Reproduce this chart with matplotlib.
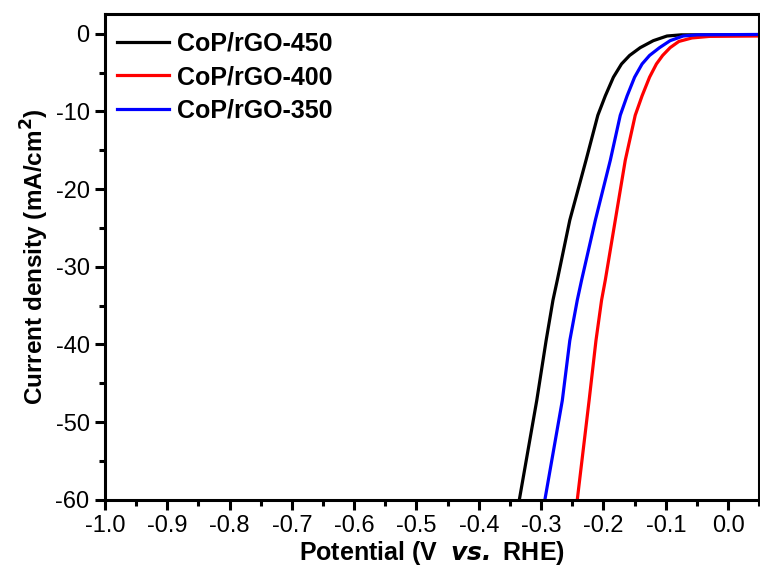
import numpy as np
import matplotlib
matplotlib.use("Agg")
import matplotlib.pyplot as plt
from matplotlib.ticker import MultipleLocator

plt.rcParams["font.family"] = ["Liberation Sans", "DejaVu Sans"]
plt.rcParams["axes.unicode_minus"] = False

# LSV curves (V vs RHE, mA/cm2)
black_x = [-0.335, -0.307, -0.292, -0.281, -0.274, -0.254, -0.228, -0.209, -0.197,
           -0.184, -0.171, -0.158, -0.141, -0.120, -0.098, -0.075, 0.05]
black_y = [-60.0, -47.2, -39.5, -34.3, -31.7, -24.0, -16.3, -10.5, -8.0,
           -5.6, -3.9, -2.8, -1.8, -0.9, -0.3, -0.15, -0.15]
red_x = [-0.242, -0.223, -0.212, -0.203, -0.197, -0.181, -0.165, -0.149, -0.138,
         -0.126, -0.115, -0.105, -0.093, -0.079, -0.058, -0.030, 0.05]
red_y = [-60.0, -47.2, -39.5, -34.3, -31.7, -24.0, -16.3, -10.5, -8.0,
         -5.6, -3.9, -2.8, -1.8, -1.0, -0.55, -0.35, -0.3]
blue_x = [-0.294, -0.266, -0.254, -0.242, -0.235, -0.213, -0.189, -0.173, -0.162,
          -0.150, -0.138, -0.126, -0.110, -0.093, -0.072, -0.050, 0.05]
blue_y = [-60.0, -47.2, -39.5, -34.3, -31.7, -24.0, -16.3, -10.5, -8.0,
          -5.6, -3.9, -2.8, -1.8, -0.9, -0.3, -0.15, -0.1]

labels = ["CoP/rGO-450", "CoP/rGO-400", "CoP/rGO-350"]
colors = ["black", "#ff0000", "#0000ff"]

fig = plt.figure(figsize=(7.6, 5.7), dpi=100)
ax = fig.add_axes([0.138, 0.123, 0.861, 0.852])

for xs, ys, lab, c in zip([black_x, red_x, blue_x], [black_y, red_y, blue_y], labels, colors):
    ax.plot(xs, ys, color=c, lw=2.3, label=lab)

ax.set_xlim(-1.0, 0.05)
ax.set_ylim(-60, 2.5)
ax.xaxis.set_major_locator(MultipleLocator(0.1))
ax.xaxis.set_minor_locator(MultipleLocator(0.05))
ax.yaxis.set_major_locator(MultipleLocator(10))
ax.yaxis.set_minor_locator(MultipleLocator(5))
ax.xaxis.set_major_formatter(plt.FuncFormatter(lambda v, p: "%.1f" % (v if abs(v) > 1e-9 else 0.0)))

for s in ax.spines.values():
    s.set_linewidth(2.2)
ax.tick_params(which="major", direction="out", length=7, width=2.2, labelsize=17,
               pad=4, top=False, right=False)
ax.tick_params(which="minor", direction="out", length=4, width=2.2, top=False, right=False)

ax.set_xlabel(r"Potential (V  $\mathbfit{vs.}$ RHE)", fontsize=18, fontweight="bold", labelpad=1)
ax.set_ylabel(r"Current density (mA/cm$^\mathbf{2}$)", fontsize=17.5, fontweight="bold", labelpad=3)

leg = ax.legend(loc="upper left", frameon=False, prop={"weight": "bold", "size": 18},
                handlelength=2.1, handletextpad=0.3, labelspacing=0.38,
                borderaxespad=0.0, bbox_to_anchor=(0.003, 0.985))

fig.savefig("out.png", dpi=100)
